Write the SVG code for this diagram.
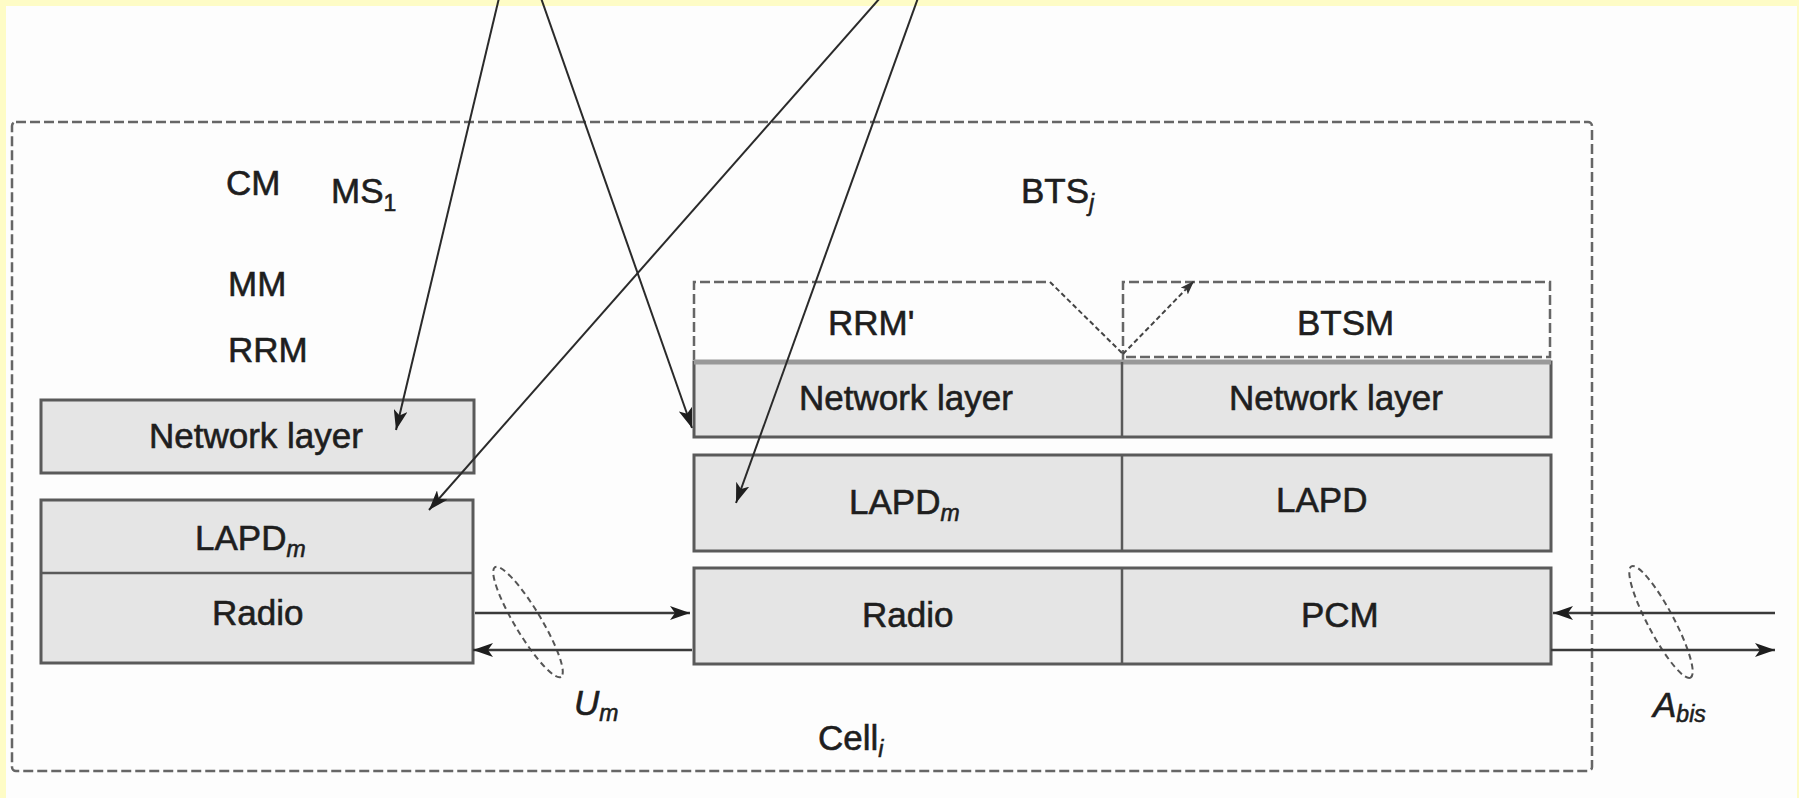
<svg xmlns="http://www.w3.org/2000/svg" width="1799" height="798" viewBox="0 0 1799 798">
<style>
.t{font-family:"Liberation Sans",Arial,sans-serif;font-size:35px;fill:#1e1e1e;stroke:#1e1e1e;stroke-width:0.6}
.sub{font-size:23px;font-style:italic}
.box{fill:#e5e5e5;stroke:#5a5a5a;stroke-width:3}
.div{stroke:#5a5a5a;stroke-width:2.5}
.dash{fill:none;stroke:#666;stroke-width:2.5;stroke-dasharray:10 4}
.ell{fill:none;stroke:#555;stroke-width:2;stroke-dasharray:6 4}
.ln{fill:none;stroke:#2a2a2a;stroke-width:2}
.hl{fill:none;stroke:#3a3a3a;stroke-width:2.5}
</style>
<defs>
<marker id="ah" markerUnits="userSpaceOnUse" markerWidth="22" markerHeight="14" refX="20" refY="7" orient="auto">
<path d="M0,0 L20,7 L0,14 L5,7 Z" fill="#1e1e1e"/>
</marker>
<marker id="ahs" markerUnits="userSpaceOnUse" markerWidth="16" markerHeight="10" refX="14" refY="5" orient="auto">
<path d="M0,0 L14,5 L0,10 L3,5 Z" fill="#333"/>
</marker>
</defs>
<rect x="0" y="0" width="1799" height="798" fill="#fdfdfd"/>
<rect x="0" y="0" width="1799" height="6" fill="#fefcc6"/>
<rect x="0" y="0" width="6" height="798" fill="#fefcc6"/>
<rect x="1797" y="0" width="2" height="798" fill="#fefcc6"/>

<g id="cell">
<rect class="dash" x="12" y="122" width="1580" height="649" rx="4"/>
<text class="t" x="818" y="750">Cell<tspan class="sub" dy="7">i</tspan></text>
</g>

<g id="ms">
<text class="t" x="226" y="195">CM</text>
<text class="t" x="331" y="203">MS<tspan font-size="23" dy="8">1</tspan></text>
<text class="t" x="228" y="296">MM</text>
<text class="t" x="228" y="362">RRM</text>
</g>
<g id="ms-network">
<rect class="box" x="41" y="400" width="433" height="73"/>
<text class="t" x="149" y="448">Network layer</text>
</g>
<g id="ms-lapdm-radio">
<rect class="box" x="41" y="500" width="432" height="163"/>
<line class="div" x1="41" y1="573" x2="473" y2="573"/>
<text class="t" x="195" y="550">LAPD<tspan class="sub" dy="7">m</tspan></text>
<text class="t" x="212" y="625">Radio</text>
</g>

<g id="bts">
<text class="t" x="1021" y="203">BTS<tspan class="sub" dy="8">j</tspan></text>
</g>
<g id="bts-top">
<path class="dash" d="M694,360 V282 H1050"/>
<path class="dash" d="M1123,360 V282 H1550 V357 H1123"/>
<text class="t" x="828" y="335">RRM'</text>
<text class="t" x="1297" y="335">BTSM</text>
</g>
<g id="bts-network">
<rect class="box" x="694" y="362" width="857" height="75"/>
<line x1="694" y1="362" x2="1551" y2="362" stroke="#999" stroke-width="5"/>
<line class="div" x1="1122" y1="362" x2="1122" y2="437"/>
<text class="t" x="799" y="410">Network layer</text>
<text class="t" x="1229" y="410">Network layer</text>
</g>
<g id="bts-lapd">
<rect class="box" x="694" y="455" width="857" height="96"/>
<line class="div" x1="1122" y1="455" x2="1122" y2="551"/>
<text class="t" x="849" y="514">LAPD<tspan class="sub" dy="7">m</tspan></text>
<text class="t" x="1276" y="512">LAPD</text>
</g>
<g id="bts-radio">
<rect class="box" x="694" y="568" width="857" height="96"/>
<line class="div" x1="1122" y1="568" x2="1122" y2="664"/>
<text class="t" x="862" y="627">Radio</text>
<text class="t" x="1301" y="627">PCM</text>
</g>

<g id="um">
<ellipse class="ell" cx="528" cy="622" rx="64" ry="13" transform="rotate(59 528 622)"/>
<text class="t" x="574" y="715" font-style="italic">U<tspan class="sub" dy="6">m</tspan></text>
</g>
<g id="abis">
<ellipse class="ell" cx="1661" cy="622" rx="63" ry="13" transform="rotate(62 1661 622)"/>
<text class="t" x="1653" y="717" font-style="italic">A<tspan class="sub" dy="5">bis</tspan></text>
</g>

<g id="connectors">
<line class="ln" x1="499" y1="-2" x2="396" y2="430" marker-end="url(#ah)"/>
<line class="ln" x1="541" y1="-2" x2="692" y2="428" marker-end="url(#ah)"/>
<line class="ln" x1="880" y1="-2" x2="429" y2="510" marker-end="url(#ah)"/>
<line class="ln" x1="918" y1="-2" x2="736" y2="503" marker-end="url(#ah)"/>
<line class="hl" x1="475" y1="613" x2="690" y2="613" marker-end="url(#ah)"/>
<line class="hl" x1="692" y1="650" x2="473" y2="650" marker-end="url(#ah)"/>
<line class="hl" x1="1775" y1="613" x2="1553" y2="613" marker-end="url(#ah)"/>
<line class="hl" x1="1551" y1="650" x2="1775" y2="650" marker-end="url(#ah)"/>
<line x1="1050" y1="282" x2="1123" y2="354" stroke="#444" stroke-width="2" stroke-dasharray="5 3"/>
<line x1="1123" y1="354" x2="1194" y2="281" stroke="#444" stroke-width="2" stroke-dasharray="5 3" marker-end="url(#ahs)"/>
</g>
</svg>
